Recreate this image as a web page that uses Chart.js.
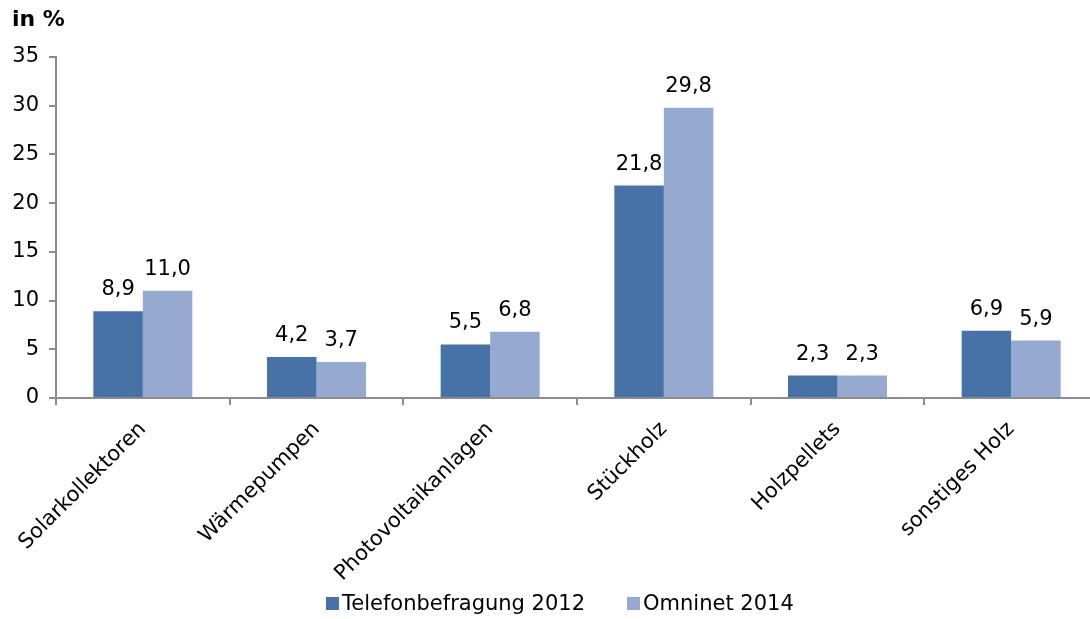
<!DOCTYPE html>
<html>
<head>
<meta charset="utf-8">
<script src="https://cdn.jsdelivr.net/npm/chart.js@4/dist/chart.umd.min.js"></script>
<style>
  html, body { margin: 0; padding: 0; background: #fff; overflow: hidden; }
  #wrap { position: relative; width: 1090px; height: 619px; overflow: hidden; }
  #unit { position: absolute; left: 12px; top: 6px; font: bold 22px "DejaVu Sans", Verdana, sans-serif; color: #000; }
  canvas { position: absolute; left: 0; top: 0; }
  #legend { position: absolute; left: 326px; top: 591px; display: flex; align-items: center;
            font: 21px "DejaVu Sans", Verdana, sans-serif; color: #000; white-space: nowrap; }
  #legend .item { display: flex; align-items: center; margin-right: 42px; }
  #legend .box { width: 13px; height: 13px; margin-right: 3px; }
</style>
</head>
<body>
<div id="wrap">
  <canvas id="c" width="1098" height="619"></canvas>
  <div id="unit">in %</div>
  <div id="legend"></div>
</div>
<script>
"use strict";

const categories = ["Solarkollektoren", "Wärmepumpen", "Photovoltaikanlagen", "Stückholz", "Holzpellets", "sonstiges Holz"];
const telefon2012 = [8.9, 4.2, 5.5, 21.8, 2.3, 6.9];
const omninet2014 = [11.0, 3.7, 6.8, 29.8, 2.3, 5.9];
const seriesNames = ["Telefonbefragung 2012", "Omninet 2014"];
const seriesColors = ["#4672a8", "#95a9d1"];
const yTicks = [0, 5, 10, 15, 20, 25, 30, 35];

const FONT = "'DejaVu Sans', Verdana, sans-serif";
const FS = 21;
const AXIS = "#8c8c8c";

// value labels above every bar, German decimal comma
const valueLabels = {
  id: "valueLabels",
  afterDatasetsDraw(chart) {
    const ctx = chart.ctx;
    ctx.save();
    ctx.font = FS + "px " + FONT;
    ctx.fillStyle = "#000";
    ctx.textAlign = "center";
    ctx.textBaseline = "alphabetic";
    chart.data.datasets.forEach((ds, i) => {
      chart.getDatasetMeta(i).data.forEach((bar, j) => {
        ctx.fillText(ds.data[j].toFixed(1).replace(".", ","), bar.x, bar.y - 16);
      });
    });
    ctx.restore();
  },
};

const chart = new Chart(document.getElementById("c"), {
  type: "bar",
  data: {
    labels: categories,
    datasets: [
      { label: seriesNames[0], data: telefon2012, backgroundColor: seriesColors[0] },
      { label: seriesNames[1], data: omninet2014, backgroundColor: seriesColors[1] },
    ],
  },
  options: {
    responsive: false,
    animation: false,
    events: [],
    layout: { padding: { top: 57, left: 0, right: 0, bottom: 0 } },
    datasets: { bar: { categoryPercentage: 0.57, barPercentage: 1.0 } },
    plugins: {
      legend: { display: false },
      tooltip: { enabled: false },
    },
    scales: {
      x: {
        grid: { display: true, drawOnChartArea: false, offset: true, color: AXIS, lineWidth: 2, tickLength: 7 },
        border: { color: AXIS, width: 2 },
        ticks: { font: { family: FONT, size: FS }, color: "#000", minRotation: 45, maxRotation: 45, padding: 12 },
        afterFit(s) { s.height = 221; },
      },
      y: {
        min: 0, max: 35,
        afterBuildTicks(s) { s.ticks = yTicks.map((v) => ({ value: v })); },
        grid: { display: true, drawOnChartArea: false, color: AXIS, lineWidth: 2, tickLength: 7 },
        border: { color: AXIS, width: 2 },
        ticks: { font: { family: FONT, size: FS }, color: "#000", padding: 10 },
        afterFit(s) { s.width = 56; },
      },
    },
  },
  plugins: [valueLabels],
});

// legend as plain html text under the chart
document.getElementById("legend").innerHTML = chart.data.datasets.map((ds) =>
  `<span class="item"><span class="box" style="background:${ds.backgroundColor}"></span>${ds.label}</span>`
).join("");
</script>
</body>
</html>
